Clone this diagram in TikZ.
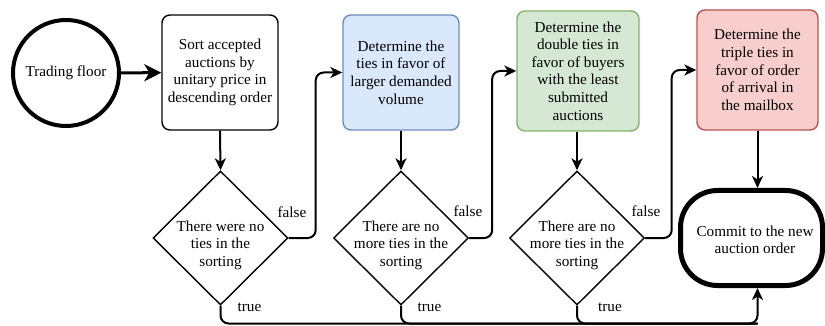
\documentclass[tikz,border=0pt]{standalone}
\usepackage{fontspec}
\setmainfont{Liberation Serif}
\usetikzlibrary{arrows.meta,shapes.geometric}
\definecolor{bluefill}{HTML}{DAE8FC}
\definecolor{bluedraw}{HTML}{6C8EBF}
\definecolor{greenfill}{HTML}{D5E8D4}
\definecolor{greendraw}{HTML}{82B366}
\definecolor{redfill}{HTML}{F8CECC}
\definecolor{reddraw}{HTML}{B85450}
\begin{document}
\begin{tikzpicture}[x=1pt,y=-1pt,
  every node/.style={font=\rmfamily\fontsize{15.2}{17.6}\selectfont, align=center, inner sep=0pt},
  procbox/.style={draw, rectangle, rounded corners=8pt, line width=1.4pt},
  decision/.style={draw, diamond, aspect=1, minimum width=135pt, minimum height=134pt, line width=1.4pt},
  conn/.style={line width=2pt, -{Stealth[length=12pt,width=11pt,inset=3.5pt]}, rounded corners=8pt},
  plain/.style={line width=2pt, rounded corners=8pt}]
\useasboundingbox (0,0) rectangle (825,326);

\node[draw, circle, line width=4pt, minimum size=106pt] (start) at (66,73) {Trading floor};
\node[procbox, minimum width=116pt, minimum height=115pt] (sort) at (220,72.5)
  {Sort accepted\\auctions by\\unitary price in\\descending order};
\node[procbox, fill=bluefill, draw=bluedraw, minimum width=116pt, minimum height=115pt] (blue) at (401,72.5)
  {Determine the\\ties in favor of\\larger demanded\\volume};
\node[procbox, fill=greenfill, draw=greendraw, minimum width=122pt, minimum height=120pt] (green) at (578,71)
  {Determine the\\double ties in\\favor of buyers\\with the least\\submitted\\auctions};
\node[procbox, fill=redfill, draw=reddraw, minimum width=121pt, minimum height=120pt] (red) at (757.5,70)
  {Determine the\\triple ties in\\favor of order\\of arrival in\\the mailbox};
\node[draw, rectangle, rounded corners=37pt, line width=5pt, minimum width=142pt, minimum height=95pt] (commit) at (751.5,238) {};
\node (committ) at (755,240) {Commit to the new\\auction order};

\node[decision] (d1) at (220.5,238) {};
\node[decision] (d2) at (401,238) {};
\node[decision] (d3) at (577,238) {};
\node (d1t) at (220.5,245) {There were no\\ties in the\\sorting};
\node (d2t) at (401,245) {There are no\\more ties in the\\sorting};
\node (d3t) at (577,245) {There are no\\more ties in the\\sorting};

\node (f1) at (292,212) {false};
\node (f2) at (468,211) {false};
\node (f3) at (646,211) {false};
\node (t1) at (249.5,307) {true};
\node (t2) at (429.5,307) {true};
\node (t3) at (610,307) {true};

\draw[line width=3pt, -{Stealth[length=17pt,width=17pt,inset=5pt]}] (start) -- (sort);
\draw[conn] (sort.south) -- (d1.north);
\draw[conn] (blue.south) -- (d2.north);
\draw[conn] ([xshift=-1pt]green.south) -- (d3.north);
\draw[conn] (red.south) -- (red.south |- commit.north);

\draw[conn] (d1.east) -- ++(27,0) |- (blue.west);
\draw[conn] (d2.east) -- ++(23,0) |- (green.west);
\draw[conn] (d3.east) -- ++(26.5,0) |- (red.west);

\coordinate (bend) at (757.5,323.5);
\draw[plain] (d2.south) |- (bend);
\draw[plain] (d3.south) |- (bend);
\draw[conn] (d1.south) |- (bend) -- (red.south |- commit.south);
\end{tikzpicture}
\end{document}
